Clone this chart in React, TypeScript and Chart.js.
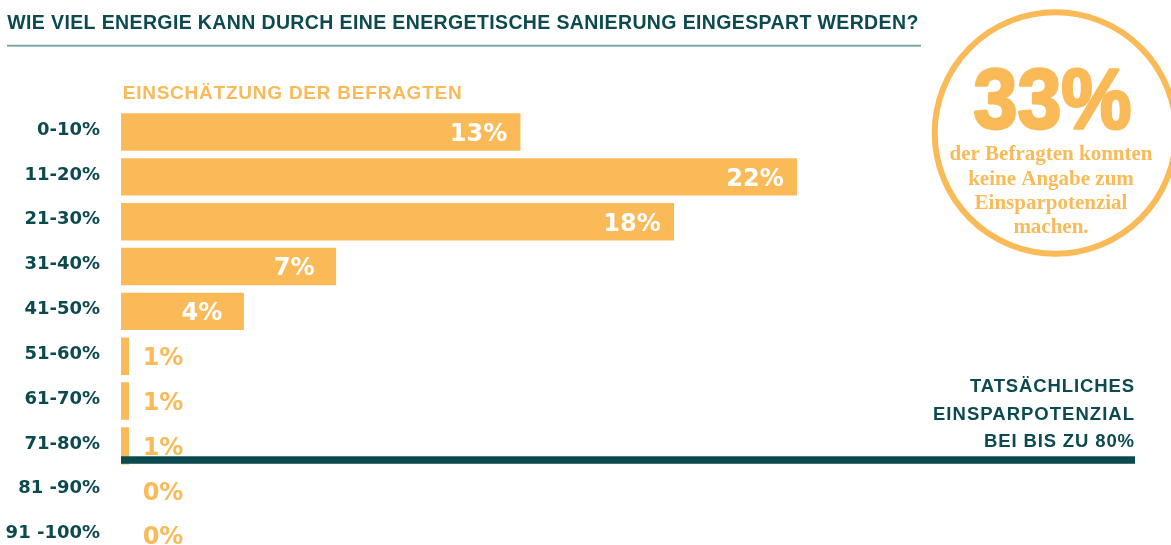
import React, { useEffect, useRef } from "react";
import { Chart, registerables } from "chart.js";

Chart.register(...registerables);

const title = "WIE VIEL ENERGIE KANN DURCH EINE ENERGETISCHE SANIERUNG EINGESPART WERDEN?";
const subtitle = "EINSCHÄTZUNG DER BEFRAGTEN";
const categories = ["0-10%", "11-20%", "21-30%", "31-40%", "41-50%", "51-60%", "61-70%", "71-80%", "81 -90%", "91 -100%"];
// shares as printed
const shares = [13, 22, 18, 7, 4, 1, 1, 1, 0, 0];
// bar lengths as drawn in the picture (the 1% bars are drawn as thin slivers)
const barLengths = [13, 22, 18, 7, 4, 0.26, 0.26, 0.26, 0, 0];
const circleValue = "33%";
const circleText = ["der Befragten konnten", "keine Angabe zum", "Einsparpotenzial", "machen."];
const noteText = ["TATSÄCHLICHES", "EINSPARPOTENZIAL", "BEI BIS ZU 80%"];
const thresholdIndex = 7;
const xMax = 33;

const ORANGE = "#F9BA57";
const TEAL = "#0C4A4F";
const RULE = "#7DA7AA";

function fitText(ctx: CanvasRenderingContext2D, text: string, x: number, y: number, width: number, align: "left" | "right" | "center") {
  ctx.save();
  (ctx as any).letterSpacing = "0px";
  ctx.textAlign = "left";
  const w = ctx.measureText(text).width;
  const n = Array.from(text).length;
  const ls = n > 1 ? (width - w) / (n - 1) : 0;
  (ctx as any).letterSpacing = ls + "px";
  const left = align === "right" ? x - width : align === "center" ? x - width / 2 : x;
  ctx.fillText(text, left, y);
  ctx.restore();
}

const decorPlugin = {
  id: "decor",
  afterDatasetsDraw(chart: any) {
    const ctx: CanvasRenderingContext2D = chart.ctx;
    const xs = chart.scales.x;
    const ys = chart.scales.y;
    const area = chart.chartArea;
    ctx.save();
    ctx.textBaseline = "alphabetic";

    // title
    ctx.fillStyle = TEAL;
    ctx.font = "bold 19.5px 'Liberation Sans', Arial, sans-serif";
    fitText(ctx, title, 7.3, 29.3, 911, "left");
    // rule
    ctx.fillStyle = RULE;
    ctx.fillRect(7, 44.7, 914, 2);

    // subtitle
    ctx.fillStyle = ORANGE;
    ctx.font = "bold 19px 'Liberation Sans', Arial, sans-serif";
    fitText(ctx, subtitle, 122.7, 99.3, 339, "left");

    // category labels
    ctx.fillStyle = TEAL;
    ctx.font = "bold 18px 'DejaVu Sans', sans-serif";
    ctx.textAlign = "right";
    ctx.textBaseline = "middle";
    categories.forEach((c, i) => ctx.fillText(c, area.left - 21, ys.getPixelForValue(i) - 2));
    ctx.textBaseline = "alphabetic";

    // circle
    ctx.strokeStyle = ORANGE;
    ctx.lineWidth = 6;
    ctx.beginPath();
    ctx.arc(1055.4, 133, 120.7, 0, Math.PI * 2);
    ctx.stroke();
    ctx.fillStyle = ORANGE;
    ctx.font = "bold 86px 'Liberation Sans', Arial, sans-serif";
    {
      ctx.textAlign = "center";
      const w = ctx.measureText(circleValue).width;
      const sx = 158 / w;
      ctx.save();
      ctx.translate(1052.5, 128);
      ctx.scale(sx, 1);
      ctx.lineWidth = 3;
      ctx.lineJoin = "round";
      ctx.fillText(circleValue, 0, 0);
      ctx.strokeText(circleValue, 0, 0);
      ctx.restore();
    }
    ctx.font = "bold 21px 'Liberation Serif', 'Times New Roman', serif";
    ctx.textAlign = "center";
    const serifBase = [160, 184.5, 208.8, 233];
    circleText.forEach((t, i) => ctx.fillText(t, 1051, serifBase[i]));

    // threshold line
    const step = ys.getPixelForValue(1) - ys.getPixelForValue(0);
    const lineY = ys.getPixelForValue(thresholdIndex) + 0.315 * step;
    ctx.fillStyle = TEAL;
    ctx.fillRect(area.left, lineY - 3.75, area.right - area.left, 7.5);

    // note text
    ctx.font = "bold 18.5px 'Liberation Sans', Arial, sans-serif";
    const noteWidths = [164, 201, 150];
    const noteOff = [-67.8, -40.5, -13.2];
    noteText.forEach((t, i) => fitText(ctx, t, area.right - 1, lineY + noteOff[i], noteWidths[i], "right"));

    // value labels
    ctx.font = "bold 24px 'DejaVu Sans', sans-serif";
    ctx.textAlign = "center";
    shares.forEach((v, i) => {
      const yc = ys.getPixelForValue(i) + 8.8;
      const end = xs.getPixelForValue(barLengths[i]);
      const label = v + "%";
      if (barLengths[i] >= 3) {
        ctx.fillStyle = "#FFFFFF";
        ctx.fillText(label, end - 42, yc);
      } else {
        ctx.fillStyle = ORANGE;
        ctx.fillText(label, xs.getPixelForValue(0) + 42, yc);
      }
    });
    ctx.restore();
  },
};

export default function App() {
  const ref = useRef<HTMLCanvasElement | null>(null);
  useEffect(() => {
    document.documentElement.style.overflow = "hidden";
    document.body.style.margin = "0";
    document.body.style.overflow = "hidden";
    const canvas = ref.current!;
    const chart = new Chart(canvas, {
      type: "bar",
      data: {
        labels: categories,
        datasets: [
          {
            data: barLengths,
            backgroundColor: ORANGE,
            borderWidth: 0,
            barPercentage: 0.834,
            categoryPercentage: 1,
          },
        ],
      },
      options: {
        indexAxis: "y",
        animation: false,
        responsive: false,
        devicePixelRatio: 1,
        layout: { padding: { top: 109.6, bottom: 2, left: 121, right: 36 } },
        plugins: { legend: { display: false }, tooltip: { enabled: false } },
        scales: {
          x: { type: "linear", min: 0, max: xMax, display: false },
          y: { type: "category", display: false, offset: true },
        },
      },
      plugins: [decorPlugin],
    } as any);
    return () => chart.destroy();
  }, []);
  return (
    <div style={{ position: "relative", width: 1171, height: 560 }}>
      <canvas ref={ref} width={1171} height={560} style={{ display: "block", width: 1171, height: 560 }} />
    </div>
  );
}
